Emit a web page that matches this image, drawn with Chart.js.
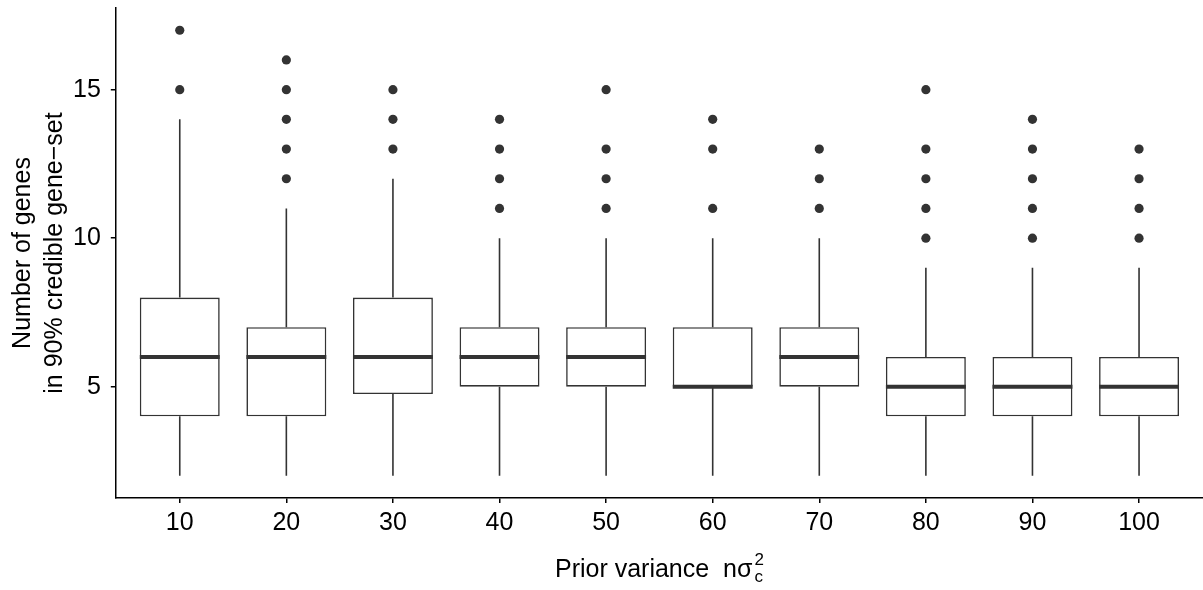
<!DOCTYPE html>
<html>
<head>
<meta charset="utf-8">
<script src="https://cdn.jsdelivr.net/npm/chart.js@4.4.1/dist/chart.umd.min.js"></script>
<style>
  html, body { margin: 0; padding: 0; background: #fff; }
  #wrap { width: 1203px; height: 590px; }
</style>
</head>
<body>
<div id="wrap"><canvas id="boxChart"></canvas></div>
<script>
// prior variance groups
const categories = ["10", "20", "30", "40", "50", "60", "70", "80", "90", "100"];
const whiskerLow = [2, 2, 2, 2, 2, 2, 2, 2, 2, 2];
const q1 = [4, 4, 4.75, 5, 5, 5, 5, 4, 4, 4];
const median = [6, 6, 6, 6, 6, 5, 6, 5, 5, 5];
const q3 = [8, 7, 8, 7, 7, 7, 7, 6, 6, 6];
const whiskerHigh = [14, 11, 12, 10, 10, 10, 10, 9, 9, 9];
const outliers = [
  [15, 17],
  [12, 13, 14, 15, 16],
  [13, 14, 15],
  [11, 12, 13, 14],
  [11, 12, 13, 15],
  [11, 13, 14],
  [11, 12, 13],
  [10, 11, 12, 13, 15],
  [10, 11, 12, 13, 14],
  [10, 11, 12, 13]
];
const yTicks = [5, 10, 15];

const ink = "#333333";
const font = "'Liberation Sans', Arial, Helvetica, sans-serif";

const boxData = categories.map((c, i) => ({ x: i + 1, y: [q1[i], q3[i]] }));
const outlierData = [];
outliers.forEach((list, i) => {
  list.forEach((v) => outlierData.push({ x: i + 1, y: v }));
});

// whiskers + medians drawn with the chart's scales
const boxExtras = {
  id: "boxExtras",
  afterDatasetsDraw(chart) {
    const ctx = chart.ctx;
    const xs = chart.scales.x;
    const ys = chart.scales.y;
    const meta = chart.getDatasetMeta(0);
    ctx.save();
    ctx.strokeStyle = ink;
    meta.data.forEach((bar, i) => {
      const cx = xs.getPixelForValue(i + 1);
      const half = bar.width / 2;
      ctx.lineWidth = 1.6;
      ctx.beginPath();
      ctx.moveTo(cx, ys.getPixelForValue(q3[i]));
      ctx.lineTo(cx, ys.getPixelForValue(whiskerHigh[i]));
      ctx.moveTo(cx, ys.getPixelForValue(q1[i]));
      ctx.lineTo(cx, ys.getPixelForValue(whiskerLow[i]));
      ctx.stroke();
      ctx.lineWidth = 4;
      ctx.beginPath();
      const my = ys.getPixelForValue(median[i]);
      ctx.moveTo(cx - half, my);
      ctx.lineTo(cx + half, my);
      ctx.stroke();
    });
    ctx.restore();
  },
  afterDraw(chart) {
    // x axis title with sub/superscript
    const ctx = chart.ctx;
    const area = chart.chartArea;
    ctx.save();
    ctx.fillStyle = "#000";
    ctx.textBaseline = "alphabetic";
    ctx.font = "25px " + font;
    const main = "Prior variance  n\u03c3";
    const wMain = ctx.measureText(main).width;
    ctx.font = "17px " + font;
    const wSup = ctx.measureText("2").width;
    const total = wMain + wSup + 2;
    const x0 = (area.left + area.right) / 2 - total / 2;
    const base = 577;
    ctx.font = "25px " + font;
    ctx.fillText(main, x0, base);
    ctx.font = "17px " + font;
    ctx.fillText("2", x0 + wMain + 2, base - 12);
    ctx.fillText("c", x0 + wMain + 2, base + 5);
    ctx.restore();
  }
};

new Chart(document.getElementById("boxChart"), {
  data: {
    datasets: [
      {
        type: "bar",
        data: boxData,
        backgroundColor: "#ffffff",
        borderColor: ink,
        borderWidth: 1.6,
        borderSkipped: false,
        barPercentage: 0.75,
        categoryPercentage: 1,
        order: 2
      },
      {
        type: "scatter",
        data: outlierData,
        backgroundColor: ink,
        borderColor: ink,
        pointRadius: 4.6,
        borderWidth: 0,
        order: 1
      }
    ]
  },
  options: {
    responsive: true,
    maintainAspectRatio: false,
    animation: false,
    layout: { autoPadding: false, padding: { left: 7, right: 0, top: 8, bottom: 47 } },
    plugins: { legend: { display: false }, tooltip: { enabled: false } },
    scales: {
      x: {
        type: "linear",
        min: 0.4,
        max: 10.6,
        offset: false,
        afterBuildTicks: (axis) => {
          axis.ticks = categories.map((c, i) => ({ value: i + 1 }));
        },
        afterFit: (axis) => {
          axis.paddingLeft = 0;
          axis.paddingRight = 0;
        },
        ticks: {
          callback: (v) => categories[v - 1],
          color: "#000",
          font: { family: font, size: 25, lineHeight: 1.2 },
          padding: 5,
          maxRotation: 0,
          autoSkip: false
        },
        grid: { offset: false, drawOnChartArea: false, drawTicks: true, tickLength: 5, color: "#000", lineWidth: 1.5 },
        border: { display: true, color: "#000", width: 1.5 }
      },
      y: {
        min: 1.25,
        max: 17.75,
        afterBuildTicks: (axis) => {
          axis.ticks = yTicks.map((v) => ({ value: v }));
        },
        afterFit: (axis) => {
          axis.width -= 10;
          axis.paddingTop = 0;
          axis.paddingBottom = 0;
        },
        ticks: {
          color: "#000",
          font: { family: font, size: 25 },
          padding: 10
        },
        grid: { drawOnChartArea: false, drawTicks: true, tickLength: 5, color: "#000", lineWidth: 1.5 },
        border: { display: true, color: "#000", width: 1.5 },
        title: {
          display: true,
          text: ["Number of genes", "in 90% credible gene\u2212set"],
          color: "#000",
          font: { family: font, size: 25, lineHeight: 1.28 },
          padding: { top: 0, bottom: 2 }
        }
      }
    }
  },
  plugins: [boxExtras]
});
</script>
</body>
</html>
